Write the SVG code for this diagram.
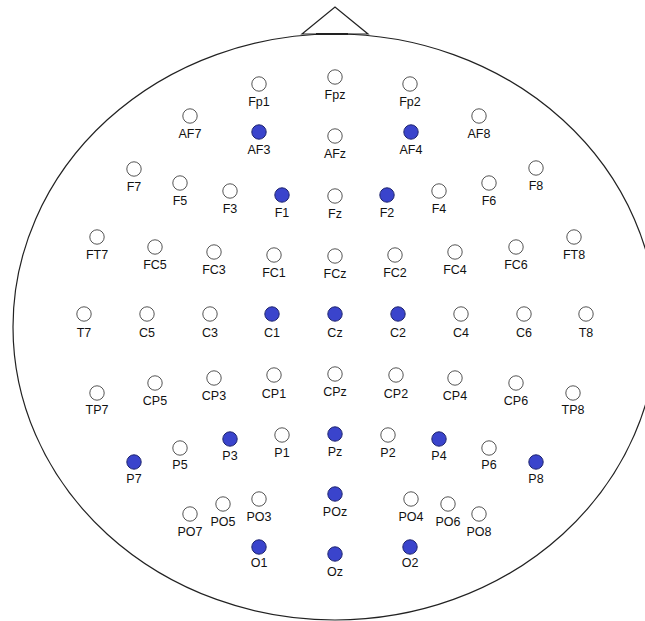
<svg xmlns="http://www.w3.org/2000/svg" width="645" height="621" viewBox="0 0 645 621">
<style>
.head{fill:#fff;stroke:#222;stroke-width:1.2}
.e{fill:#fff;stroke:#555;stroke-width:1}
.a{fill:#3a44cc;stroke:#1e2470;stroke-width:1}
text{font-family:"Liberation Sans",Arial,sans-serif;font-size:12.5px;fill:#111;text-anchor:middle}
</style>
<rect width="645" height="621" fill="#fff"/>
<g id="head">
<ellipse class="head" cx="335" cy="327" rx="322" ry="293"/>
<path d="M302,34 L335,7 L368,34 Z" fill="none" stroke="#222" stroke-width="1.2"/>
<line x1="316" y1="34" x2="348" y2="34" stroke="#222" stroke-width="2"/>
</g>
<g id="Fp1"><circle class="e" cx="259" cy="84" r="7.2"/><text x="259" y="106">Fp1</text></g>
<g id="Fpz"><circle class="e" cx="335" cy="77" r="7.2"/><text x="335" y="99">Fpz</text></g>
<g id="Fp2"><circle class="e" cx="410" cy="84" r="7.2"/><text x="410" y="106">Fp2</text></g>
<g id="AF7"><circle class="e" cx="190" cy="116" r="7.2"/><text x="190" y="138">AF7</text></g>
<g id="AF3"><circle class="a" cx="259" cy="132" r="7.2"/><text x="259" y="154">AF3</text></g>
<g id="AFz"><circle class="e" cx="335" cy="136" r="7.2"/><text x="335" y="158">AFz</text></g>
<g id="AF4"><circle class="a" cx="411" cy="132" r="7.2"/><text x="411" y="154">AF4</text></g>
<g id="AF8"><circle class="e" cx="479" cy="116" r="7.2"/><text x="479" y="138">AF8</text></g>
<g id="F7"><circle class="e" cx="134" cy="169" r="7.2"/><text x="134" y="191">F7</text></g>
<g id="F5"><circle class="e" cx="180" cy="183" r="7.2"/><text x="180" y="205">F5</text></g>
<g id="F3"><circle class="e" cx="230" cy="191" r="7.2"/><text x="230" y="213">F3</text></g>
<g id="F1"><circle class="a" cx="282" cy="195" r="7.2"/><text x="282" y="217">F1</text></g>
<g id="Fz"><circle class="e" cx="335" cy="196" r="7.2"/><text x="335" y="218">Fz</text></g>
<g id="F2"><circle class="a" cx="387" cy="195" r="7.2"/><text x="387" y="217">F2</text></g>
<g id="F4"><circle class="e" cx="439" cy="191" r="7.2"/><text x="439" y="213">F4</text></g>
<g id="F6"><circle class="e" cx="489" cy="183" r="7.2"/><text x="489" y="205">F6</text></g>
<g id="F8"><circle class="e" cx="536" cy="168" r="7.2"/><text x="536" y="190">F8</text></g>
<g id="FT7"><circle class="e" cx="97" cy="237" r="7.2"/><text x="97" y="259">FT7</text></g>
<g id="FC5"><circle class="e" cx="155" cy="247" r="7.2"/><text x="155" y="269">FC5</text></g>
<g id="FC3"><circle class="e" cx="214" cy="252" r="7.2"/><text x="214" y="274">FC3</text></g>
<g id="FC1"><circle class="e" cx="274" cy="255" r="7.2"/><text x="274" y="277">FC1</text></g>
<g id="FCz"><circle class="e" cx="335" cy="256" r="7.2"/><text x="335" y="278">FCz</text></g>
<g id="FC2"><circle class="e" cx="395" cy="255" r="7.2"/><text x="395" y="277">FC2</text></g>
<g id="FC4"><circle class="e" cx="455" cy="252" r="7.2"/><text x="455" y="274">FC4</text></g>
<g id="FC6"><circle class="e" cx="516" cy="247" r="7.2"/><text x="516" y="269">FC6</text></g>
<g id="FT8"><circle class="e" cx="574" cy="237" r="7.2"/><text x="574" y="259">FT8</text></g>
<g id="T7"><circle class="e" cx="84" cy="314" r="7.2"/><text x="84" y="337">T7</text></g>
<g id="C5"><circle class="e" cx="147" cy="314" r="7.2"/><text x="147" y="337">C5</text></g>
<g id="C3"><circle class="e" cx="210" cy="314" r="7.2"/><text x="210" y="337">C3</text></g>
<g id="C1"><circle class="a" cx="272" cy="314" r="7.2"/><text x="272" y="337">C1</text></g>
<g id="Cz"><circle class="a" cx="335" cy="314" r="7.2"/><text x="335" y="337">Cz</text></g>
<g id="C2"><circle class="a" cx="398" cy="314" r="7.2"/><text x="398" y="337">C2</text></g>
<g id="C4"><circle class="e" cx="461" cy="314" r="7.2"/><text x="461" y="337">C4</text></g>
<g id="C6"><circle class="e" cx="524" cy="314" r="7.2"/><text x="524" y="337">C6</text></g>
<g id="T8"><circle class="e" cx="586" cy="314" r="7.2"/><text x="586" y="337">T8</text></g>
<g id="TP7"><circle class="e" cx="97" cy="393" r="7.2"/><text x="97" y="414">TP7</text></g>
<g id="CP5"><circle class="e" cx="155" cy="383" r="7.2"/><text x="155" y="405">CP5</text></g>
<g id="CP3"><circle class="e" cx="214" cy="378" r="7.2"/><text x="214" y="400">CP3</text></g>
<g id="CP1"><circle class="e" cx="274" cy="375" r="7.2"/><text x="274" y="398">CP1</text></g>
<g id="CPz"><circle class="e" cx="335" cy="374" r="7.2"/><text x="335" y="396">CPz</text></g>
<g id="CP2"><circle class="e" cx="396" cy="375" r="7.2"/><text x="396" y="398">CP2</text></g>
<g id="CP4"><circle class="e" cx="455" cy="378" r="7.2"/><text x="455" y="400">CP4</text></g>
<g id="CP6"><circle class="e" cx="516" cy="383" r="7.2"/><text x="516" y="405">CP6</text></g>
<g id="TP8"><circle class="e" cx="573" cy="393" r="7.2"/><text x="573" y="414">TP8</text></g>
<g id="P7"><circle class="a" cx="134" cy="462" r="7.2"/><text x="134" y="483">P7</text></g>
<g id="P5"><circle class="e" cx="180" cy="448" r="7.2"/><text x="180" y="469">P5</text></g>
<g id="P3"><circle class="a" cx="230" cy="439" r="7.2"/><text x="230" y="460">P3</text></g>
<g id="P1"><circle class="e" cx="282" cy="435" r="7.2"/><text x="282" y="457">P1</text></g>
<g id="Pz"><circle class="a" cx="335" cy="434" r="7.2"/><text x="335" y="456">Pz</text></g>
<g id="P2"><circle class="e" cx="388" cy="435" r="7.2"/><text x="388" y="457">P2</text></g>
<g id="P4"><circle class="a" cx="439" cy="439" r="7.2"/><text x="439" y="460">P4</text></g>
<g id="P6"><circle class="e" cx="489" cy="448" r="7.2"/><text x="489" y="469">P6</text></g>
<g id="P8"><circle class="a" cx="536" cy="462" r="7.2"/><text x="536" y="483">P8</text></g>
<g id="PO7"><circle class="e" cx="190" cy="514" r="7.2"/><text x="190" y="536">PO7</text></g>
<g id="PO5"><circle class="e" cx="223" cy="504" r="7.2"/><text x="223" y="526">PO5</text></g>
<g id="PO3"><circle class="e" cx="259" cy="499" r="7.2"/><text x="259" y="521">PO3</text></g>
<g id="POz"><circle class="a" cx="335" cy="494" r="7.2"/><text x="335" y="516">POz</text></g>
<g id="PO4"><circle class="e" cx="411" cy="499" r="7.2"/><text x="411" y="521">PO4</text></g>
<g id="PO6"><circle class="e" cx="448" cy="504" r="7.2"/><text x="448" y="526">PO6</text></g>
<g id="PO8"><circle class="e" cx="479" cy="514" r="7.2"/><text x="479" y="536">PO8</text></g>
<g id="O1"><circle class="a" cx="259" cy="547" r="7.2"/><text x="259" y="567">O1</text></g>
<g id="Oz"><circle class="a" cx="335" cy="554" r="7.2"/><text x="335" y="576">Oz</text></g>
<g id="O2"><circle class="a" cx="410" cy="547" r="7.2"/><text x="410" y="567">O2</text></g>
<g id="connectors"></g>
</svg>
